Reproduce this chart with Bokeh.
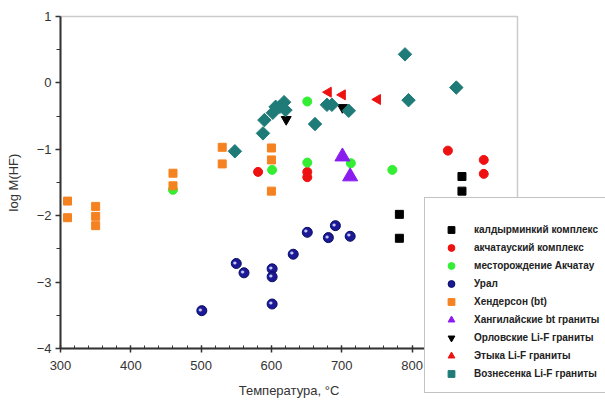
import numpy as np
from bokeh.plotting import figure
from bokeh.models import Legend, LegendItem, FixedTicker, Range1d, BoxAnnotation
from bokeh.core.properties import value
from bokeh.embed import file_html
from bokeh.resources import INLINE

# ---- data (Температура, log M(HF)) ----
kald_T = [782, 782, 871, 871]
kald_v = [-1.98, -2.34, -1.41, -1.63]

akch_T = [581, 651, 651, 851, 902, 902]
akch_v = [-1.34, -1.34, -1.42, -1.02, -1.16, -1.37]

mest_T = [460, 601, 651, 651, 713, 772]
mest_v = [-1.61, -1.31, -0.28, -1.20, -1.21, -1.31]

ural_T = [501, 550, 561, 601, 601, 601, 631, 651, 681, 691, 712]
ural_v = [-3.43, -2.72, -2.86, -2.80, -2.92, -3.33, -2.58, -2.25, -2.33, -2.15, -2.31]

hend_T = [310, 310, 350, 350, 350, 460, 460, 530, 530, 600, 600, 600]
hend_v = [-1.78, -2.03, -1.86, -2.01, -2.15, -1.36, -1.55, -0.97, -1.22, -0.98, -1.16, -1.63]

hang_T = [701, 712]
hang_v = [-1.11, -1.41]

orl_T = [621, 701]
orl_v = [-0.55, -0.37]

etyk_T = [681, 701, 751]
etyk_v = [-0.14, -0.18, -0.25]

vozn_T = [548, 588, 590, 602, 606, 612, 618, 620, 662, 679, 686, 710, 790, 795, 863]
vozn_v = [-1.03, -0.76, -0.56, -0.45, -0.36, -0.36, -0.29, -0.41, -0.62, -0.33, -0.33, -0.42, 0.43, -0.26, -0.07]

x_ticks = [300, 400, 500, 600, 700, 800, 900]
y_ticks = [-4, -3, -2, -1, 0, 1]
x_min, x_max = 300, 950
y_min, y_max = -4, 1

FONT = "Liberation Sans"

# Geometry: the whole figure is one frame, so the legend may overlap the box
W, H = 605, 400                 # figure/frame size
box_l, box_t = 60, 16           # plot box position inside the frame (px)
box_w, box_h = 457, 332         # plot box size (px)
px_x = box_w / (x_max - x_min)
px_y = box_h / (y_max - y_min)
xs = x_min - box_l / px_x
ye = y_max + box_t / px_y

p = figure(frame_width=W, frame_height=H,
           x_range=Range1d(xs, xs + W / px_x),
           y_range=Range1d(ye - H / px_y, ye),
           output_backend="svg", toolbar_location=None,
           min_border=0, min_border_left=0, min_border_right=0,
           min_border_top=0, min_border_bottom=0,
           background_fill_color="white", border_fill_color="white")
p.grid.visible = False
p.outline_line_color = None

box = BoxAnnotation(left=x_min, right=x_max, bottom=y_min, top=y_max,
                    fill_color=None, fill_alpha=0, line_color="#555555",
                    line_width=1.5, level="underlay")
p.add_layout(box)

for ax in (p.xaxis[0], p.yaxis[0]):
    ax.axis_line_width = 2
    ax.axis_line_color = "#333333"
    ax.major_tick_line_color = "#333333"
    ax.minor_tick_line_color = "#333333"
    ax.major_tick_line_width = 1.5
    ax.minor_tick_line_width = 1
    ax.major_label_text_font = FONT
    ax.major_label_text_font_size = "13px"
    ax.major_label_text_color = "#333333"
    ax.axis_label_text_font = FONT
    ax.axis_label_text_font_size = "13px"
    ax.axis_label_text_font_style = "normal"
    ax.axis_label_text_color = "#333333"

p.xaxis.fixed_location = y_min
p.yaxis.fixed_location = x_min
p.xaxis.bounds = (x_min, x_max)
p.yaxis.bounds = (y_min, y_max)
p.xaxis.ticker = FixedTicker(ticks=x_ticks, minor_ticks=list(range(300, 951, 20)))
p.yaxis.ticker = FixedTicker(ticks=y_ticks, minor_ticks=[-3.5, -2.5, -1.5, -0.5, 0.5])
p.xaxis.major_tick_in = 3
p.xaxis.major_tick_out = 4
p.xaxis.minor_tick_in = 3
p.xaxis.minor_tick_out = 0
p.yaxis.major_tick_in = 0
p.yaxis.major_tick_out = 5
p.yaxis.minor_tick_in = 0
p.yaxis.minor_tick_out = 4
p.xaxis.major_label_standoff = 8
p.yaxis.major_label_standoff = 4
p.xaxis.axis_label = "Температура, °C"
p.yaxis.axis_label = "log M(HF)"
p.xaxis.axis_label_standoff = 10
p.yaxis.axis_label_standoff = 13

r_kald = p.scatter(kald_T, kald_v, marker="square", size=8, fill_color="black", line_color="black")
r_akch = p.scatter(akch_T, akch_v, marker="circle", size=9, fill_color="#ee1111", line_color="#ee1111")
r_mest = p.scatter(mest_T, mest_v, marker="circle", size=9, fill_color="#33ee33", line_color="#33ee33")
r_ural = p.scatter(ural_T, ural_v, marker="circle", size=10, fill_color="#1a1a96", line_color="#0b0b60")
p.text(ural_T, ural_v, text=["●"] * len(ural_T), text_font_size="4px",
       text_color="#c8c8ff", text_align="center", text_baseline="middle",
       x_offset=-1.5, y_offset=-1.5, text_font=value("DejaVu Sans"))
r_hend = p.scatter(hend_T, hend_v, marker="square", size=8, fill_color="#f58220", line_color="#f58220")
r_hang = p.scatter(hang_T, hang_v, marker="triangle", size=15, fill_color="#8a1cf0", line_color="#8a1cf0")
r_orl = p.scatter(orl_T, orl_v, marker="inverted_triangle", size=10, fill_color="black", line_color="black")
r_etyk = p.scatter(etyk_T, etyk_v, marker="triangle", angle=np.pi / 2, size=10,
                   fill_color="#ee1111", line_color="#ee1111")
r_vozn = p.scatter(vozn_T, vozn_v, marker="square", angle=np.pi / 4, size=9.5,
                   fill_color="#1e7b78", line_color="#1e7b78")

labels = ["калдырминкий комплекс", "акчатауский комплекс", "месторождение Акчатау", "Урал",
          "Хендерсон (bt)", "Хангилайские bt граниты", "Орловские Li-F граниты",
          "Этыка Li-F граниты", "Вознесенка Li-F граниты"]
rends = [r_kald, r_akch, r_mest, r_ural, r_hend, r_hang, r_orl, r_etyk, r_vozn]

legend = Legend(items=[LegendItem(label=l, renderers=[r]) for l, r in zip(labels, rends)],
                location=(424, 7), orientation="vertical",
                title=" ", title_text_font_size="10px", title_standoff=2,
                padding=10, spacing=1, glyph_width=32, glyph_height=17,
                label_height=17, label_standoff=7, margin=0,
                label_text_font=FONT, label_text_font_size="10px",
                label_text_font_style="bold", label_text_color="#222222",
                border_line_color="#888888", border_line_width=1,
                background_fill_color="white", background_fill_alpha=1.0)
p.add_layout(legend, "center")

open("out.html", "w").write(file_html(p, INLINE))
